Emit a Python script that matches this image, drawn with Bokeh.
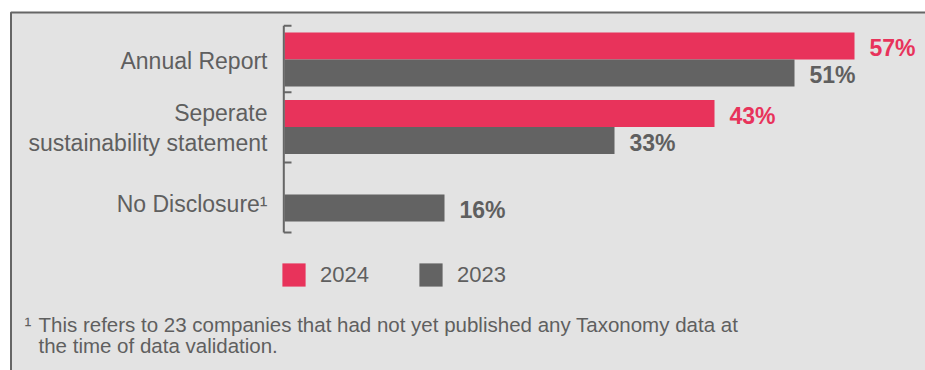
from bokeh.plotting import figure
from bokeh.models import Range1d, ColumnDataSource, Legend, LegendItem
from bokeh.embed import file_html
from bokeh.resources import INLINE
from bokeh.core.properties import value

# ---------------- data ----------------
categories = ["Annual Report", "Seperate\nsustainability statement", "No Disclosure\u00b9"]
series_names = ["2024", "2023"]
values_2024 = [57, 43, 0]
values_2023 = [51, 33, 16]
footnote_mark = "\u00b9"
footnote_lines = [
    "This refers to 23 companies that had not yet published any Taxonomy data at",
    "the time of data validation.",
]

# ---------------- styling ----------------
RED = "#E8335B"
GREY_BAR = "#636363"
TEXT = "#5f5f5f"
AXIS = "#666666"
BG = "#e3e3e3"
FONT = "Liberation Sans"

W, H = 925, 370
X0_PX = 284.0      # pixel column of 0 %
PX_PER_PCT = 10.0
Y0_PX = 59.0       # pixel row of first category centre
PX_PER_CAT = 67.5
BAR_PX = 27.0
FIX = -8.0         # baseline correction for svg text


def xd(px):
    return (px - X0_PX) / PX_PER_PCT


def yd(py):
    return (py - Y0_PX) / PX_PER_CAT


p = figure(width=W, height=H,
           x_range=Range1d(xd(0), xd(W)), y_range=Range1d(yd(H), yd(0)),
           output_backend="svg", toolbar_location=None,
           x_axis_location=None, y_axis_location=None,
           min_border=0, background_fill_color="white",
           border_fill_color="white", outline_line_color=None)
p.xgrid.visible = False
p.ygrid.visible = False

# panel box
p.quad(left=[xd(10.5)], right=[xd(W + 20)], top=[yd(12)], bottom=[yd(H + 20)],
       fill_color=BG, line_color=AXIS, line_width=2)

# bars
idx = list(range(len(categories)))
bh = BAR_PX / PX_PER_CAT
src = ColumnDataSource(dict(
    y24=[i - bh / 2 for i in idx],
    y23=[i + bh / 2 for i in idx],
    v24=values_2024,
    v23=values_2023,
))
r24 = p.hbar(y="y24", left=0, right="v24", height=bh, fill_color=RED,
             line_color=None, source=src)
r23 = p.hbar(y="y23", left=0, right="v23", height=bh, fill_color=GREY_BAR,
             line_color=None, source=src)

# value labels
lab24 = ColumnDataSource(dict(
    x=[v for v in values_2024 if v > 0],
    y=[i - bh / 2 for i, v in zip(idx, values_2024) if v > 0],
    t=[f"{v}%" for v in values_2024 if v > 0],
))
lab23 = ColumnDataSource(dict(
    x=[v for v in values_2023 if v > 0],
    y=[i + bh / 2 for i, v in zip(idx, values_2023) if v > 0],
    t=[f"{v}%" for v in values_2023 if v > 0],
))
for s, c in ((lab24, RED), (lab23, TEXT)):
    p.text(x="x", y="y", text="t", source=s, x_offset=15, y_offset=9 + FIX + 1,
           text_font=value(FONT), text_font_style="bold",
           text_font_size="23px", text_color=c,
           text_baseline="alphabetic", text_align="left")

# axis line with boundary ticks (category separators)
ax_x = xd(283.3)
tick_rows = [-0.5, 0.484, 1.526, 2.563]
p.segment(x0=[ax_x], y0=[tick_rows[0]], x1=[ax_x], y1=[tick_rows[-1]],
          line_color=AXIS, line_width=2)
p.segment(x0=[ax_x] * len(tick_rows), y0=tick_rows,
          x1=[xd(291)] * len(tick_rows), y1=tick_rows,
          line_color=AXIS, line_width=2)

# category labels (right aligned)
LINE_PX = 30.7
nudge_px = [0, 0, 8]
lx, ly, lt = [], [], []
for i, cat in enumerate(categories):
    lines = cat.split("\n")
    n = len(lines)
    for k, line in enumerate(lines):
        lx.append(xd(267))
        ly.append(i + (9 + FIX - (n - 1) * LINE_PX / 2 + k * LINE_PX + nudge_px[i]) / PX_PER_CAT)
        lt.append(line)
p.text(x=lx, y=ly, text=lt, text_font=value(FONT), text_font_size="23px",
       text_color=TEXT, text_align="right", text_baseline="alphabetic")

# legend (area legend glyphs are inset by 10% on each side)
legend = Legend(items=[LegendItem(label=series_names[0], renderers=[r24]),
                       LegendItem(label=series_names[1], renderers=[r23])],
                orientation="horizontal", location=(279, 81),
                glyph_width=29, glyph_height=29, label_standoff=12, spacing=47,
                padding=0, margin=0, border_line_color=None,
                background_fill_alpha=0, label_text_font=FONT,
                label_text_font_size="22px", label_text_color=TEXT)
p.add_layout(legend)

# footnote
p.text(x=[xd(24)], y=[yd(331.7 + FIX)], text=[footnote_mark], text_font=value(FONT),
       text_font_size="20.5px", text_color=TEXT, text_baseline="alphabetic")
p.text(x=[xd(38), xd(38)], y=[yd(331.7 + FIX), yd(353.3 + FIX)], text=footnote_lines,
       text_font=value(FONT), text_font_size="20.5px", text_color=TEXT,
       text_baseline="alphabetic")

open("out.html", "w").write(file_html(p, INLINE))
